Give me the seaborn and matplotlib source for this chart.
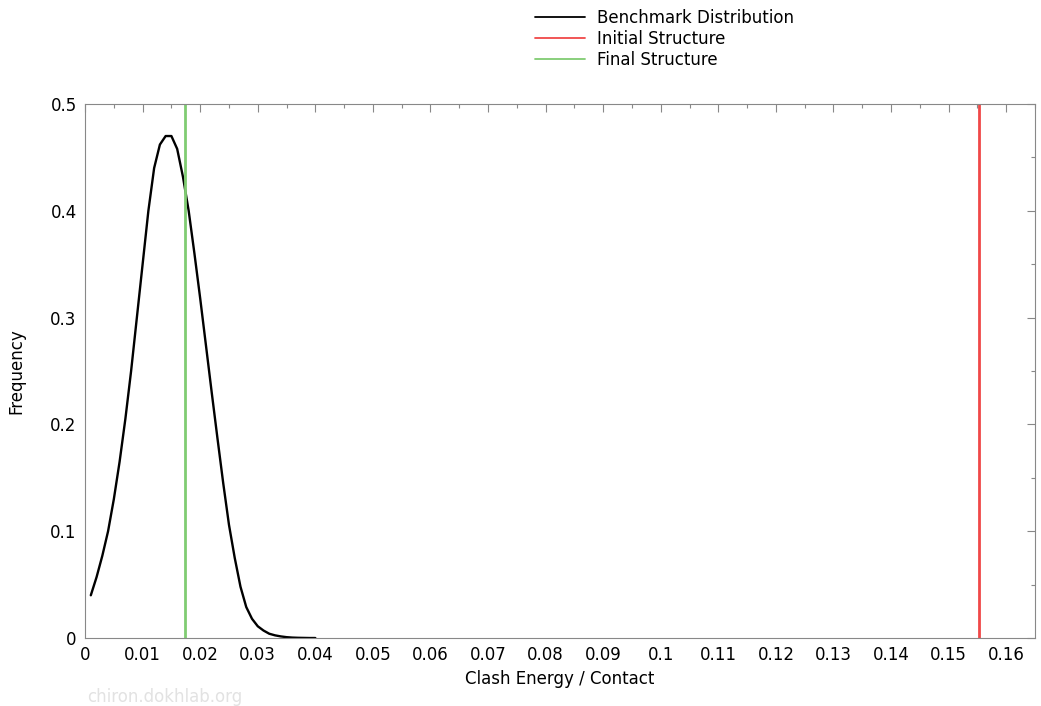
import numpy as np
import pandas as pd
import seaborn as sns
import matplotlib
matplotlib.use("Agg")
import matplotlib.pyplot as plt
from matplotlib.ticker import MultipleLocator

# benchmark distribution
clash = [0.001, 0.002, 0.003, 0.004, 0.005, 0.006, 0.007, 0.008, 0.009, 0.010,
         0.011, 0.012, 0.013, 0.014, 0.015, 0.016, 0.017, 0.018, 0.019, 0.020,
         0.021, 0.022, 0.023, 0.024, 0.025, 0.026, 0.027, 0.028, 0.029, 0.030,
         0.031, 0.032, 0.033, 0.034, 0.035, 0.036, 0.037, 0.038, 0.039, 0.040]
freq = [0.040, 0.057, 0.077, 0.100, 0.130, 0.165, 0.205, 0.250, 0.300, 0.350,
        0.400, 0.440, 0.462, 0.470, 0.470, 0.458, 0.432, 0.400, 0.360, 0.318,
        0.274, 0.230, 0.187, 0.145, 0.106, 0.075, 0.048, 0.029, 0.018, 0.011,
        0.007, 0.004, 0.0025, 0.0015, 0.0008, 0.0004, 0.0002, 0.0001, 0.0, 0.0]
initial_value = 0.1553
final_value = 0.0173

df = pd.DataFrame({"clash": clash, "freq": freq})

sns.set_style("white")
plt.rcParams["font.family"] = ["DejaVu Sans"]
plt.rcParams["text.color"] = "black"
plt.rcParams["axes.labelcolor"] = "black"

fig = plt.figure(figsize=(10.41, 7.06), dpi=100)
ax = fig.add_axes([0.0817, 0.0963, 0.9125, 0.7564])

sns.lineplot(data=df, x="clash", y="freq", ax=ax, color="black", lw=1.7,
             label="Benchmark Distribution")
ax.axvline(initial_value, color="#f04848", lw=2.0, label="Initial Structure")
ax.axvline(final_value, color="#80cc72", lw=2.0, label="Final Structure")

ax.set_xlim(0, 0.165)
ax.set_ylim(0, 0.5)
ax.xaxis.set_minor_locator(MultipleLocator(0.005))
ax.yaxis.set_minor_locator(MultipleLocator(0.05))
xt = np.arange(0, 0.165, 0.01)
ax.set_xticks(xt)
ax.set_xticklabels(["0"] + [f"{v:g}" for v in xt[1:]])
yt = np.arange(0, 0.51, 0.1)
ax.set_yticks(yt)
ax.set_yticklabels(["0"] + [f"{v:g}" for v in yt[1:]])

ax.tick_params(which="both", direction="in", top=True, right=True,
               color="#888888", labelsize=12, labelcolor="black")
ax.tick_params(which="major", length=6, width=0.8, pad=6)
ax.tick_params(which="minor", length=3, width=0.8)
for s in ax.spines.values():
    s.set_color("#888888")
    s.set_linewidth(0.8)

ax.set_xlabel("Clash Energy / Contact", fontsize=12, labelpad=4)
ax.set_ylabel("Frequency", fontsize=12, labelpad=18)

ax.legend_.remove()
handles, labels = ax.get_legend_handles_labels()
leg = fig.legend(handles, labels, loc="upper left", bbox_to_anchor=(0.4995, 1.009),
                 frameon=False, fontsize=12, handlelength=3.0, handletextpad=0.7,
                 labelspacing=0.2)
for line in leg.get_lines():
    line.set_linewidth(1.3)

fig.text(0.084, 0.005, "chiron.dokhlab.org", color="#e2e2e2", fontsize=12)

fig.savefig("out.png", dpi=100)
